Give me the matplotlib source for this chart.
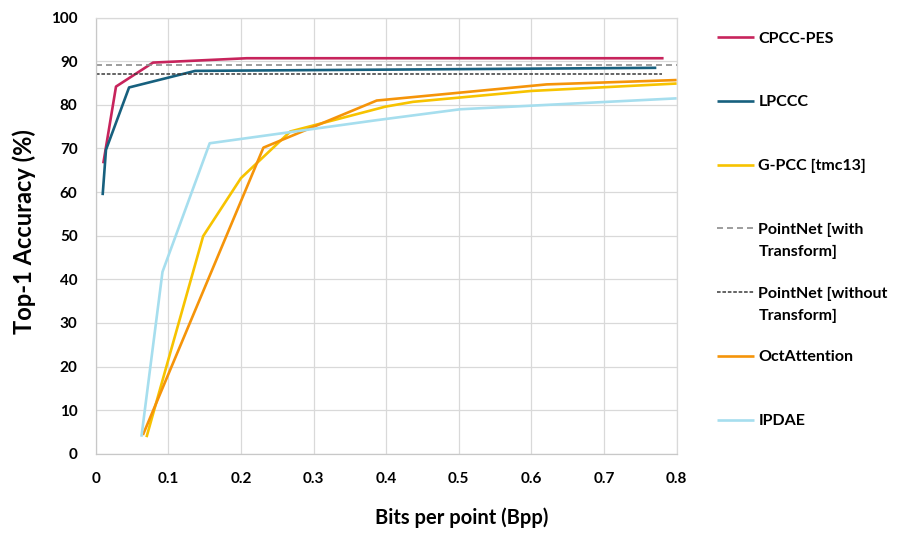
import matplotlib
matplotlib.use("Agg")
import matplotlib.pyplot as plt

plt.rcParams['font.family'] = ['Lato', 'DejaVu Sans']
plt.rcParams['font.weight'] = 'bold'
plt.rcParams['lines.scale_dashes'] = False

# ---- data ----
cpcc_x = [0.0105, 0.028, 0.079, 0.208, 0.782]
cpcc_y = [66.6, 84.2, 89.7, 90.7, 90.7]

lpccc_x = [0.0096, 0.0142, 0.046, 0.137, 0.772]
lpccc_y = [59.3, 69.7, 84.0, 87.8, 88.5]

gpcc_x = [0.070, 0.148, 0.200, 0.268, 0.399, 0.437, 0.600, 0.800]
gpcc_y = [3.8, 49.9, 63.2, 73.9, 79.6, 80.7, 83.2, 84.9]

pn_with_x = [0.0, 0.8]
pn_with_y = [89.2, 89.2]

pn_without_x = [0.0, 0.78]
pn_without_y = [87.1, 87.1]

oct_x = [0.065, 0.231, 0.387, 0.621, 0.800]
oct_y = [4.3, 70.2, 81.0, 84.7, 85.7]

ipdae_x = [0.063, 0.092, 0.157, 0.387, 0.502, 0.800]
ipdae_y = [3.9, 41.7, 71.2, 76.5, 79.0, 81.5]

labels = ["CPCC-PES", "LPCCC", "G-PCC [tmc13]", "PointNet [with\nTransform]",
          "PointNet [without\nTransform]", "OctAttention", "IPDAE"]

x_ticks = [0, 0.1, 0.2, 0.3, 0.4, 0.5, 0.6, 0.7, 0.8]
x_tick_labels = ["0", "0.1", "0.2", "0.3", "0.4", "0.5", "0.6", "0.7", "0.8"]
y_ticks = [0, 10, 20, 30, 40, 50, 60, 70, 80, 90, 100]
y_tick_labels = [str(v) for v in y_ticks]

# ---- figure ----
fig = plt.figure(figsize=(9.19, 5.36), dpi=100)
ax = fig.add_axes([0.1041, 0.1535, 0.6322, 0.8135])

series = [
    (cpcc_x, cpcc_y, dict(color='#C7245C', lw=1.9)),
    (lpccc_x, lpccc_y, dict(color='#17607E', lw=1.9)),
    (gpcc_x, gpcc_y, dict(color='#F7C300', lw=1.9)),
    (pn_with_x, pn_with_y, dict(color='#8C8C8C', lw=1.2, dashes=(4.3, 2.9))),
    (pn_without_x, pn_without_y, dict(color='#3A3A3A', lw=1.1, dashes=(2.6, 1.3))),
    (oct_x, oct_y, dict(color='#F59409', lw=1.9)),
    (ipdae_x, ipdae_y, dict(color='#A6DEEE', lw=1.9)),
]

handles = []
for (xs, ys, st), lab in zip(series, labels):
    lab2 = lab if "\n" in lab else lab + "\n "
    h, = ax.plot(xs, ys, label=lab2, solid_capstyle='butt', clip_on=True, **st)
    handles.append(h)

ax.set_xlim(0, 0.8)
ax.set_ylim(0, 100)
ax.set_xticks(x_ticks)
ax.set_xticklabels(x_tick_labels)
ax.set_yticks(y_ticks)
ax.set_yticklabels(y_tick_labels)
ax.tick_params(length=0, labelsize=11, pad=13)
ax.tick_params(axis='x', pad=13)
for t in ax.get_xticklabels() + ax.get_yticklabels():
    t.set_fontweight('bold')

ax.grid(True, color='#D9D9D9', lw=0.9)
ax.set_axisbelow(True)
for s in ax.spines.values():
    s.set_color('#D9D9D9')
    s.set_linewidth(0.9)
ax.spines['left'].set_color('#C8C8C8')
ax.spines['bottom'].set_color('#C8C8C8')

ax.set_ylabel("Top-1 Accuracy (%)", fontsize=17, fontweight='bold', ha='center', va='center')
ax.yaxis.set_label_coords(-0.1234, 0.51)
ax.set_xlabel("Bits per point (Bpp)", fontsize=14.5, fontweight='bold', ha='center', va='center')
ax.xaxis.set_label_coords(0.63, -0.1475)

leg = fig.legend(handles=handles, loc='upper left', bbox_to_anchor=(0.780, 0.9405),
                 frameon=False, borderpad=0, borderaxespad=0,
                 handlelength=2.3, handletextpad=0.3, labelspacing=1.73,
                 prop=dict(family=['Lato', 'DejaVu Sans'], weight='bold', size=11.5))
for t in leg.get_texts():
    t.set_linespacing(1.72)
try:
    for col in leg._legend_handle_box.get_children():
        for item in col.get_children():
            item.align = 'top'
except Exception:
    pass

fig.savefig("out.png", dpi=100)
